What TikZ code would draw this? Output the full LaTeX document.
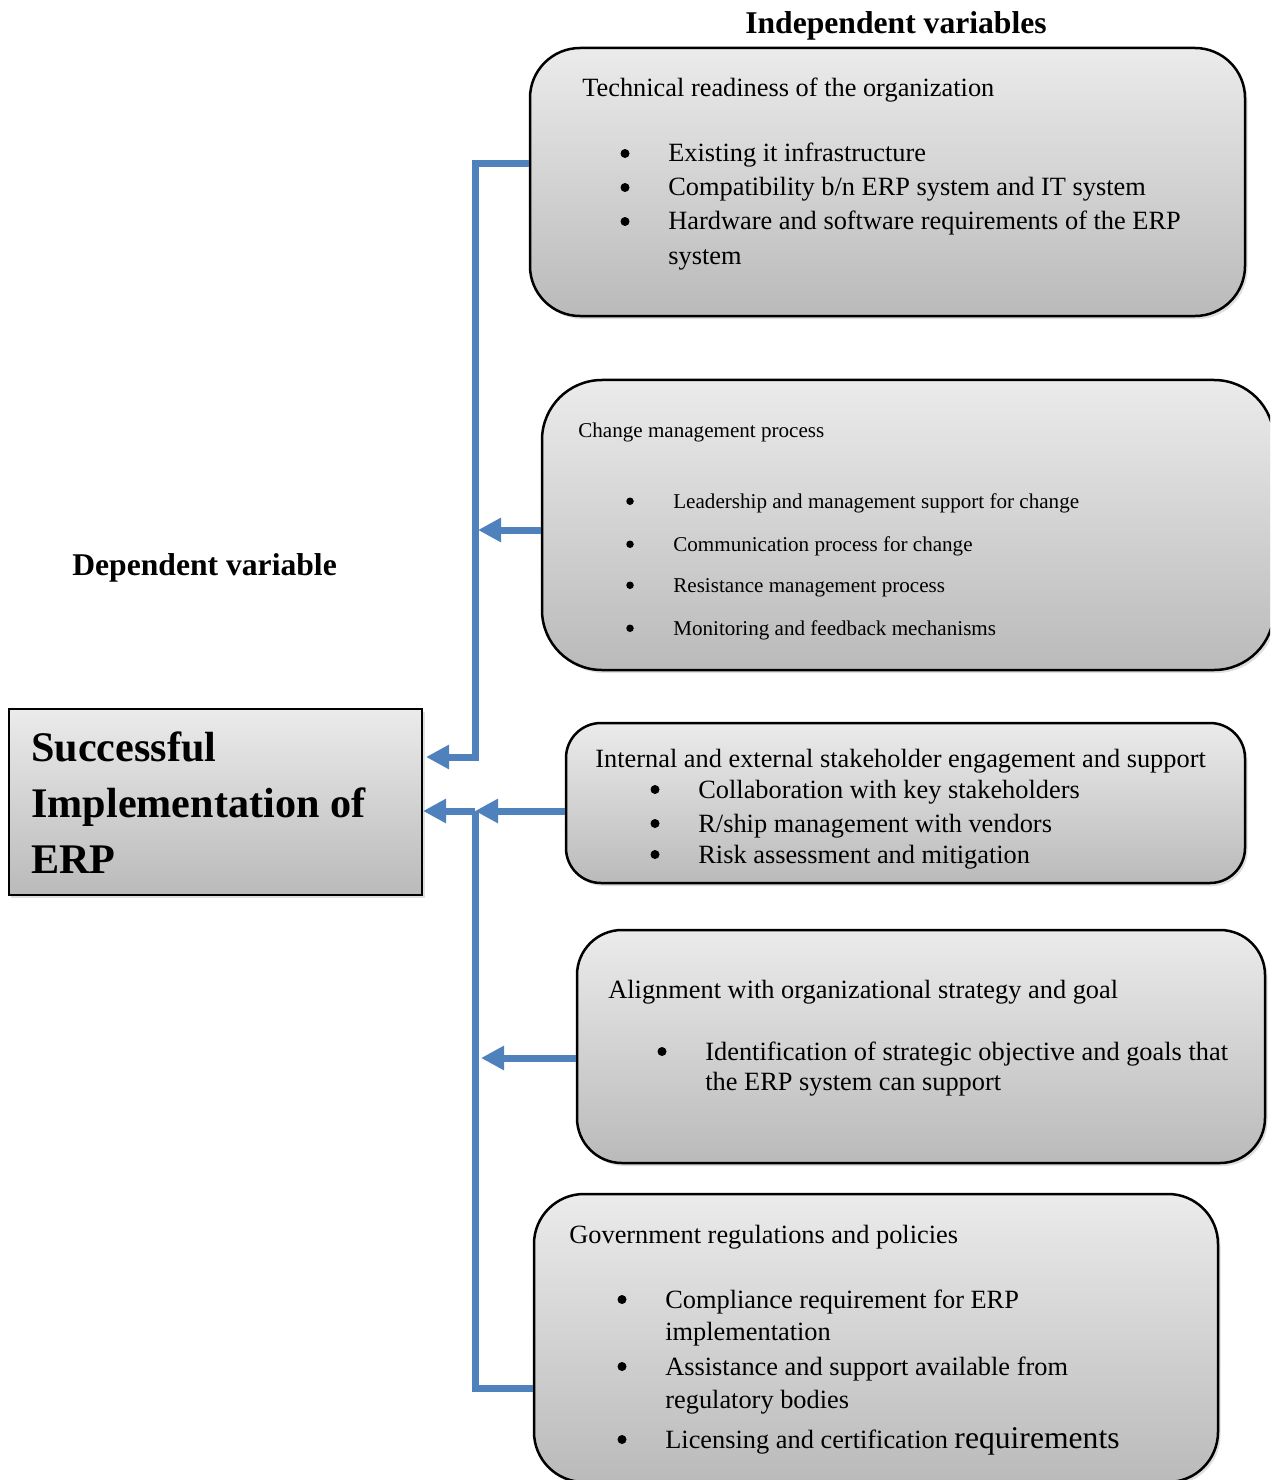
\documentclass[tikz,border=0pt]{standalone}
\usepackage{fontspec}
\setmainfont{Liberation Serif}
\usepackage{xcolor}
\usepackage{tikz}
\usetikzlibrary{arrows.meta, shadows}
\definecolor{linkBlue}{HTML}{4F81BD}
\definecolor{boxTop}{HTML}{EBEBEB}
\definecolor{boxBot}{HTML}{BABABA}
\tikzset{
  varbox/.style={
    draw=black, line width=0.5mm, rounded corners=#1,
    top color=boxTop, bottom color=boxBot,
    drop shadow={opacity=0.25, shadow xshift=0.5mm, shadow yshift=-0.6mm}
  },
  varbox/.default=10mm,
  heading/.style={font=\fontsize{18}{22}\selectfont\bfseries, inner sep=0pt},
  itemtext/.style={font=\fontsize{15}{18}\selectfont, anchor=base west, inner sep=0pt},
  smalltext/.style={font=\fontsize{12}{14}\selectfont, anchor=base west, inner sep=0pt},
  bigtext/.style={font=\fontsize{24}{30}\selectfont\bfseries, anchor=base west, inner sep=0pt},
  conn/.style={line width=1.4mm, draw=linkBlue},
  connarr/.style={conn, -{Triangle[length=4.6mm, width=4.6mm]}}
}

\begin{document}
\begin{tikzpicture}[x=0.2mm, y=-0.2mm]

\clip (0,0) rectangle (1270,1480);

\node[heading, anchor=base] (indep) at (896,34) {Independent variables};
\node[heading, anchor=base west] (dep) at (72,575) {Dependent variable};

\node[varbox=0mm, line width=0.4mm, minimum width=82.6mm, minimum height=37.2mm] (erp) at (215.5,802) {};
\node[bigtext] (erp1) at (31,761) {Successful};
\node[bigtext] (erp2) at (31,817) {Implementation of};
\node[bigtext] (erp3) at (31,873) {ERP};

\node[varbox=10mm, minimum width=143mm, minimum height=53.6mm] (tech) at (887.5,182) {};
\node[itemtext] (tech0) at (582,97) {Technical readiness of the organization};
\node[itemtext] (tech1) at (668,162) {Existing it infrastructure};
\node[itemtext] (tech2) at (668,196) {Compatibility b/n ERP system and IT system};
\node[itemtext] (tech3) at (668,230) {Hardware and software requirements of the ERP};
\node[itemtext] (tech4) at (668,264) {system};

\node[varbox=12mm, minimum width=146.4mm, minimum height=58mm] (change) at (908,525) {};
\node[smalltext] (change0) at (578,437) {Change management process};
\node[smalltext] (change1) at (673,508) {Leadership and management support for change};
\node[smalltext] (change2) at (673,551) {Communication process for change};
\node[smalltext] (change3) at (673,592) {Resistance management process};
\node[smalltext] (change4) at (673,635) {Monitoring and feedback mechanisms};

\node[varbox=7mm, minimum width=135.8mm, minimum height=32mm] (stake) at (905.5,803) {};
\node[itemtext] (stake0) at (595,767) {Internal and external stakeholder engagement and support};
\node[itemtext] (stake1) at (698,798) {Collaboration with key stakeholders};
\node[itemtext] (stake2) at (698,832) {R/ship management with vendors};
\node[itemtext] (stake3) at (698,863) {Risk assessment and mitigation};

\node[varbox=9mm, minimum width=137.6mm, minimum height=46.6mm] (align) at (921,1046.5) {};
\node[itemtext] (align0) at (608,998) {Alignment with organizational strategy and goal};
\node[itemtext] (align1) at (705,1060) {Identification of strategic objective and goals that};
\node[itemtext] (align2) at (705,1090) {the ERP system can support};

\node[varbox=10mm, minimum width=136.8mm, minimum height=57.6mm] (gov) at (876,1338) {};
\node[itemtext] (gov0) at (569,1243) {Government regulations and policies};
\node[itemtext] (gov1) at (665,1308) {Compliance requirement for ERP};
\node[itemtext] (gov2) at (665,1340) {implementation};
\node[itemtext] (gov3) at (665,1375) {Assistance and support available from};
\node[itemtext] (gov4) at (665,1408) {regulatory bodies};
\node[itemtext] (gov5) at (665,1448) {Licensing and certification {\fontsize{18}{20}\selectfont requirements}};

\foreach \n in {tech1, tech2, tech3, stake1, stake2, stake3, align1, gov1, gov3, gov5}
  \fill ([xshift=-8.6mm, yshift=1.7mm]\n.base west) circle (0.9mm);
\foreach \n in {change1, change2, change3, change4}
  \fill ([xshift=-8.6mm, yshift=1.35mm]\n.base west) circle (0.75mm);

\coordinate (spinetop) at (475,164);
\coordinate (spinemid) at (475,757);
\coordinate (spinejoin) at (475,811);
\coordinate (spinebot) at (475,1388);
\coordinate (changeport) at ([yshift=-1mm]change.west);
\coordinate (alignport) at ([yshift=-2.3mm]align.west);

\draw[connarr, shorten >=0.6mm] (tech.west |- spinetop) -- (spinetop) -- (spinemid) -- (erp.east |- spinemid);
\draw[connarr, shorten >=0.6mm] (changeport) -- (changeport -| spinetop);
\draw[connarr] (stake.west |- spinejoin) -- (spinejoin);
\draw[connarr] (spinejoin) -- (erp.east |- spinejoin);
\draw[connarr, shorten >=1.2mm] (alignport) -- (alignport -| spinetop);
\draw[conn] (gov.west |- spinebot) -- (spinebot) -- (spinejoin);

\end{tikzpicture}
\end{document}
